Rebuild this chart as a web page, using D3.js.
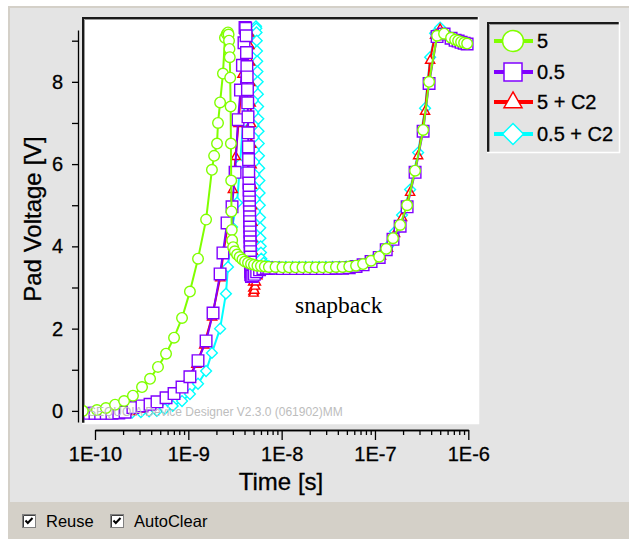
<!DOCTYPE html>
<html>
<head>
<meta charset="utf-8">
<script src="https://cdn.jsdelivr.net/npm/d3@7"></script>
<style>
  html, body { margin: 0; padding: 0; background: #ffffff; }
  svg { display: block; }
</style>
</head>
<body>
<svg id="chart" width="629" height="539"></svg>
<script>
// ---- data -------------------------------------------------------------
const seriesNames  = ["5", "0.5", "5 + C2", "0.5 + C2"];
const seriesColors = ["#80ff00", "#8000ff", "#ff0000", "#00ffff"];
const seriesShapes = ["circle", "square", "triangle", "diamond"];

const xTickValues = [1e-10, 1e-9, 1e-8, 1e-7, 1e-6];
const xTickLabels = ["1E-10", "1E-9", "1E-8", "1E-7", "1E-6"];
const yTickValues = [0, 1, 2, 3, 4, 5, 6, 7, 8, 9];
const yTickLabels = ["0", "", "2", "", "4", "", "6", "", "8", ""];

// series "5": time [s] and pad voltage [V]
const time5 = [
  7.4e-11, 1.05e-10, 1.31e-10, 1.64e-10, 2.05e-10, 2.55e-10, 3.19e-10, 3.89e-10, 4.73e-10, 5.77e-10,
  7.03e-10, 8.56e-10, 1.04e-9, 1.27e-9, 1.55e-9, 1.79e-9, 1.89e-9, 2.03e-9, 2.08e-9, 2.19e-9,
  2.35e-9, 2.47e-9, 2.58e-9, 2.66e-9,
  2.70e-9, 2.73e-9, 2.76e-9, 2.78e-9, 2.81e-9, 2.84e-9, 2.86e-9, 2.88e-9, 2.90e-9, 2.92e-9,
  2.95e-9, 3.02e-9, 3.15e-9, 3.33e-9, 3.55e-9, 3.80e-9, 4.05e-9, 4.36e-9, 4.70e-9, 5.05e-9,
  5.50e-9, 6.00e-9, 6.60e-9,
  7.30e-9, 8.60e-9, 1.02e-8, 1.20e-8, 1.41e-8, 1.67e-8, 1.97e-8, 2.32e-8, 2.74e-8, 3.24e-8,
  3.82e-8, 4.50e-8, 5.30e-8, 6.27e-8, 7.46e-8, 9.08e-8, 1.11e-7, 1.32e-7, 1.56e-7, 1.86e-7,
  2.21e-7, 2.69e-7, 3.28e-7, 3.80e-7, 4.63e-7, 5.50e-7, 6.54e-7, 7.22e-7, 7.78e-7, 8.37e-7,
  9.02e-7, 9.71e-7
];
const volt5 = [
  0.00, 0.02, 0.07, 0.15, 0.24, 0.37, 0.58, 0.78, 1.07, 1.39,
  1.78, 2.26, 2.90, 3.70, 4.65, 5.86, 6.20, 6.50, 7.00, 7.50,
  8.20, 9.07, 9.16, 9.20,
  9.15, 9.00, 8.80, 8.60, 8.10, 7.40, 6.50, 5.60, 4.85, 4.40,
  4.15, 3.98, 3.88, 3.80, 3.74, 3.68, 3.63, 3.60, 3.57, 3.55,
  3.53, 3.52, 3.51,
  3.50, 3.50, 3.49, 3.49, 3.49, 3.49, 3.49, 3.49, 3.49, 3.49,
  3.50, 3.50, 3.51, 3.53, 3.57, 3.65, 3.75, 3.94, 4.20, 4.52,
  5.00, 5.84, 6.83, 8.00, 9.12, 9.17, 9.07, 9.02, 9.00, 8.97,
  8.95, 8.93
];

// series "0.5"
const time05 = [
  8.8e-11, 1.00e-10, 1.15e-10, 1.32e-10, 1.52e-10, 1.80e-10, 2.10e-10, 2.55e-10, 3.19e-10, 3.89e-10,
  4.62e-10, 5.77e-10, 7.03e-10, 8.56e-10, 1.04e-9, 1.27e-9, 1.55e-9, 1.84e-9, 2.19e-9, 2.35e-9,
  2.60e-9, 2.94e-9, 3.17e-9, 3.41e-9, 3.62e-9, 3.80e-9, 3.95e-9, 4.05e-9,
  4.12e-9, 4.16e-9, 4.20e-9, 4.24e-9, 4.27e-9, 4.30e-9, 4.33e-9, 4.36e-9, 4.38e-9, 4.40e-9,
  4.42e-9, 4.44e-9, 4.46e-9, 4.48e-9, 4.50e-9, 4.51e-9, 4.52e-9, 4.53e-9, 4.54e-9, 4.55e-9,
  4.56e-9, 4.57e-9, 4.58e-9, 4.59e-9, 4.60e-9, 4.61e-9, 4.62e-9, 4.63e-9, 4.64e-9, 4.65e-9,
  4.66e-9,
  4.75e-9, 4.90e-9, 5.10e-9, 5.40e-9, 5.80e-9, 6.30e-9, 6.90e-9,
  7.30e-9, 8.60e-9, 1.02e-8, 1.20e-8, 1.41e-8, 1.67e-8, 1.97e-8, 2.32e-8, 2.74e-8, 3.24e-8,
  3.82e-8, 4.50e-8, 5.30e-8, 6.27e-8, 7.46e-8, 9.08e-8, 1.11e-7, 1.32e-7, 1.56e-7, 1.86e-7,
  2.21e-7, 2.69e-7, 3.28e-7, 3.80e-7, 4.63e-7, 5.50e-7, 6.54e-7, 7.22e-7, 7.78e-7, 8.37e-7,
  9.02e-7, 9.71e-7
];
const volt05 = [
  -0.06, -0.06, -0.06, -0.06, -0.06, -0.05, -0.03, 0.08, 0.12, 0.16,
  0.22, 0.32, 0.42, 0.58, 0.83, 1.22, 1.70, 2.38, 3.33, 3.84,
  4.57, 4.96, 5.80, 7.08, 7.80, 8.40, 8.95, 9.32,
  9.30, 9.12, 8.71, 8.37, 8.12, 7.81, 7.49, 7.15, 6.76, 6.42,
  6.11, 5.79, 5.54, 5.37, 5.20, 5.08, 4.96, 4.84, 4.72, 4.60,
  4.47, 4.35, 4.23, 4.11, 3.99, 3.87, 3.74, 3.62, 3.50, 3.38,
  3.31,
  3.27, 3.28, 3.32, 3.38, 3.43, 3.46, 3.47,
  3.47, 3.47, 3.46, 3.46, 3.46, 3.46, 3.46, 3.46, 3.46, 3.46,
  3.47, 3.47, 3.48, 3.51, 3.55, 3.63, 3.73, 3.92, 4.17, 4.49,
  4.96, 5.80, 6.80, 7.96, 9.10, 9.16, 9.06, 9.01, 8.99, 8.96,
  8.94, 8.92
];

// series "5 + C2"
const time5C2 = [
  9.0e-11, 1.10e-10, 1.35e-10, 1.65e-10, 2.00e-10, 2.45e-10, 3.00e-10, 3.70e-10, 4.50e-10, 5.50e-10,
  6.70e-10, 8.20e-10, 1.00e-9, 1.22e-9, 1.48e-9, 1.80e-9, 2.20e-9, 2.40e-9, 2.68e-9, 3.00e-9,
  3.22e-9, 3.45e-9, 3.80e-9, 4.15e-9, 4.35e-9,
  4.45e-9, 4.52e-9, 4.58e-9, 4.62e-9, 4.66e-9, 4.70e-9, 4.73e-9, 4.76e-9, 4.79e-9, 4.82e-9,
  4.85e-9, 4.87e-9, 4.89e-9, 4.91e-9, 4.93e-9, 4.95e-9, 4.97e-9, 4.99e-9, 5.01e-9, 5.10e-9,
  5.20e-9, 5.30e-9, 5.50e-9, 5.80e-9, 6.30e-9, 6.90e-9,
  7.90e-9, 9.40e-9, 1.11e-8, 1.31e-8, 1.54e-8, 1.81e-8, 2.14e-8, 2.52e-8, 2.98e-8, 3.52e-8,
  4.15e-8, 4.90e-8, 5.70e-8, 6.90e-8, 8.20e-8, 9.80e-8, 1.16e-7, 1.38e-7, 1.64e-7, 1.95e-7,
  2.38e-7, 2.90e-7, 3.44e-7, 3.90e-7, 4.41e-7, 4.99e-7, 5.93e-7, 7.04e-7, 8.17e-7, 9.47e-7
];
const volt5C2 = [
  -0.04, -0.05, -0.05, -0.05, -0.03, 0.00, 0.06, 0.12, 0.20, 0.29,
  0.40, 0.55, 0.80, 1.15, 1.62, 2.30, 3.25, 3.90, 4.60, 5.40,
  6.20, 7.00, 8.20, 9.00, 9.25,
  9.20, 8.90, 8.50, 8.00, 7.50, 7.00, 6.50, 6.00, 5.50, 5.00,
  4.60, 4.20, 3.90, 3.60, 3.35, 3.15, 3.00, 2.92, 2.88, 2.95,
  3.05, 3.15, 3.30, 3.42, 3.48, 3.50,
  3.50, 3.50, 3.50, 3.50, 3.50, 3.50, 3.50, 3.50, 3.50, 3.50,
  3.50, 3.51, 3.52, 3.55, 3.60, 3.68, 3.78, 3.97, 4.33, 4.72,
  5.33, 6.22, 7.30, 8.54, 9.15, 9.30, 9.15, 9.05, 8.98, 8.93
];

// series "0.5 + C2"
const time05C2 = [
  1.60e-10, 2.00e-10, 2.50e-10, 3.10e-10, 3.80e-10, 4.60e-10, 5.60e-10, 6.80e-10, 8.56e-10, 1.04e-9,
  1.27e-9, 1.55e-9, 1.79e-9, 2.19e-9, 2.53e-9, 2.66e-9, 2.94e-9, 3.33e-9, 3.58e-9, 3.86e-9,
  4.15e-9, 4.58e-9, 4.94e-9, 5.31e-9,
  5.35e-9, 5.38e-9, 5.41e-9, 5.44e-9, 5.47e-9, 5.50e-9, 5.53e-9, 5.56e-9, 5.59e-9, 5.62e-9,
  5.65e-9, 5.68e-9, 5.71e-9, 5.74e-9, 5.77e-9, 5.80e-9, 5.83e-9, 5.86e-9, 5.89e-9, 5.92e-9,
  5.96e-9, 6.00e-9, 6.05e-9, 6.40e-9, 6.80e-9, 7.30e-9,
  7.90e-9, 9.40e-9, 1.11e-8, 1.31e-8, 1.54e-8, 1.81e-8, 2.14e-8, 2.52e-8, 2.98e-8, 3.52e-8,
  4.15e-8, 4.90e-8, 5.70e-8, 6.90e-8, 8.20e-8, 9.80e-8, 1.16e-7, 1.38e-7, 1.64e-7, 1.95e-7,
  2.38e-7, 2.90e-7, 3.44e-7, 3.90e-7, 4.41e-7, 4.99e-7, 5.93e-7, 7.04e-7, 8.17e-7, 9.47e-7
];
const volt05C2 = [
  -0.05, -0.05, -0.04, -0.03, -0.01, 0.00, 0.05, 0.12, 0.24, 0.41,
  0.66, 0.97, 1.41, 2.00, 2.85, 3.50, 4.47, 5.06, 6.00, 7.00,
  8.00, 8.80, 9.20, 9.35,
  9.30, 9.20, 9.00, 8.75, 8.50, 8.25, 8.00, 7.70, 7.40, 7.10,
  6.80, 6.50, 6.20, 5.90, 5.60, 5.30, 5.00, 4.70, 4.45, 4.20,
  4.00, 3.85, 3.70, 3.60, 3.55, 3.52,
  3.50, 3.50, 3.50, 3.50, 3.50, 3.50, 3.50, 3.50, 3.50, 3.50,
  3.50, 3.51, 3.52, 3.55, 3.61, 3.69, 3.80, 4.00, 4.36, 4.76,
  5.38, 6.28, 7.36, 8.60, 9.18, 9.32, 9.16, 9.05, 8.98, 8.93
];

const seriesTimes = [time5, time05, time5C2, time05C2];
const seriesVolts = [volt5, volt05, volt5C2, volt05C2];

// ---- drawing ----------------------------------------------------------
const svg = d3.select("#chart");
const SANS = "'Liberation Sans', Arial, sans-serif";
const SERIF = "'Liberation Serif', 'Times New Roman', serif";

function label(sel, size) {
  return sel.style("font-family", SANS).style("font-size", size + "px")
    .attr("fill", "#000").attr("stroke", "#000").attr("stroke-width", 0.3);
}

// window panels
svg.append("rect").attr("x", 0).attr("y", 0).attr("width", 629).attr("height", 539).attr("fill", "#ffffff");
svg.append("rect").attr("x", 8).attr("y", 6).attr("width", 621).attr("height", 533).attr("fill", "#d4d0c8");
svg.append("rect").attr("x", 10).attr("y", 8).attr("width", 619).attr("height", 494).attr("fill", "#e4e4e4");

// sunken box helper (dark top/left edge, light bottom/right edge)
function sunkenBox(x0, y0, x1, y1, fill) {
  const g = svg.append("g");
  g.append("rect").attr("x", x0).attr("y", y0).attr("width", x1 - x0).attr("height", y1 - y0).attr("fill", fill);
  g.append("path").attr("d", `M${x0 + 1},${y1}V${y0 + 1}H${x1}`)
    .attr("fill", "none").attr("stroke", "#1a1a1a").attr("stroke-width", 2);
  g.append("path").attr("d", `M${x0 + 2.5},${y1}V${y0 + 2.5}H${x1}`)
    .attr("fill", "none").attr("stroke", "#9a9a9a").attr("stroke-width", 1);
  g.append("path").attr("d", `M${x0},${y1 + 0.5}H${x1 + 0.5}V${y0}`)
    .attr("fill", "none").attr("stroke", "#ffffff").attr("stroke-width", 1.5);
  return g;
}

sunkenBox(82, 17, 478, 423, "#ffffff");

// plotting region clip
svg.append("defs").append("clipPath").attr("id", "plotClip")
  .append("rect").attr("x", 84).attr("y", 19).attr("width", 394).attr("height", 404);

// scales
const x = d3.scaleLog().domain([1e-10, 1e-6]).range([95, 468.3]);
const y = d3.scaleLinear().domain([-0.27, 9.26]).range([422, 30]);

// marker shapes (centered at 0,0; s = half size)
function shapePath(kind, s) {
  switch (kind) {
    case "circle":   return `M${s},0A${s},${s} 0 1,1 ${-s},0A${s},${s} 0 1,1 ${s},0Z`;
    case "square":   return `M${-s},${-s}H${s}V${s}H${-s}Z`;
    case "triangle": return `M0,${-s * 0.95}L${s},${s * 0.8}H${-s}Z`;
    default:         return `M0,${-s}L${s},0L0,${s}L${-s},0Z`;
  }
}
const plotMarkerSize = { circle: 5.3, square: 5.8, triangle: 4.6, diamond: 5.4 };

// series drawn back to front so that "5" ends up on top
const plot = svg.append("g").attr("clip-path", "url(#plotClip)");
const line = d3.line().x(d => x(d.t)).y(d => y(d.v));
[3, 2, 1, 0].forEach(i => {
  const pts = seriesTimes[i].map((t, k) => ({ t, v: seriesVolts[i][k] }));
  const g = plot.append("g").attr("class", "series");
  g.append("path").datum(pts).attr("d", line)
    .attr("fill", "none").attr("stroke", seriesColors[i]).attr("stroke-width", 2)
    .attr("stroke-linejoin", "round");
  g.selectAll("path.mk").data(pts).join("path").attr("class", "mk")
    .attr("transform", d => `translate(${x(d.t)},${y(d.v)})`)
    .attr("d", shapePath(seriesShapes[i], plotMarkerSize[seriesShapes[i]]))
    .attr("fill", "#ffffff").attr("stroke", seriesColors[i]).attr("stroke-width", 1.4);
});

// watermark inside the plot
svg.append("text")
  .attr("x", 88).attr("y", 416)
  .style("font-family", SANS).style("font-size", "12px")
  .attr("fill", "#bdbdbd")
  .text("SEQUOIA Device Designer V2.3.0 (061902)MM");

// annotation
svg.append("text").attr("x", 295).attr("y", 313)
  .style("font-family", SERIF).style("font-size", "23.5px")
  .attr("fill", "#000").text("snapback");

// y axis
const yAxis = d3.axisLeft(y).tickValues(yTickValues)
  .tickFormat((d, i) => yTickLabels[i]).tickSize(6).tickSizeOuter(0).tickPadding(9);
const gy = svg.append("g").attr("transform", "translate(78,0)").call(yAxis);
label(gy.selectAll("text"), 20);
gy.selectAll("line, path").attr("stroke", "#000").attr("stroke-width", 1.3);

// x axis: minor ticks, then labelled decades
const xMinor = x.ticks().filter(v => !xTickValues.some(m => Math.abs(m - v) / m < 1e-6));
const gxMinor = svg.append("g").attr("transform", "translate(0,430)")
  .call(d3.axisBottom(x).tickValues(xMinor).tickFormat("").tickSize(5).tickSizeOuter(0));
gxMinor.selectAll("line, path").attr("stroke", "#000").attr("stroke-width", 1.3);
const gx = svg.append("g").attr("transform", "translate(0,430)")
  .call(d3.axisBottom(x).tickValues(xTickValues).tickFormat((d, i) => xTickLabels[i])
    .tickSize(10).tickSizeOuter(0).tickPadding(7));
label(gx.selectAll("text"), 20);
gx.selectAll("line, path").attr("stroke", "#000").attr("stroke-width", 1.3);

// axis titles
label(svg.append("text").attr("x", 281).attr("y", 490).attr("text-anchor", "middle"), 24).text("Time [s]");
label(svg.append("text").attr("transform", "translate(41,219) rotate(-90)").attr("text-anchor", "middle"), 24)
  .text("Pad Voltage [V]");

// legend
sunkenBox(487, 22, 619, 152, "#e4e4e4");
const legendRows = [41, 72, 102, 134];
const legendMarkerSize = { circle: 10.5, square: 9, triangle: 9, diamond: 10.5 };
seriesNames.forEach((name, i) => {
  const ry = legendRows[i];
  const g = svg.append("g");
  g.append("line").attr("x1", 494).attr("x2", 533).attr("y1", ry).attr("y2", ry)
    .attr("stroke", seriesColors[i]).attr("stroke-width", 4);
  g.append("path").attr("transform", `translate(513,${i === 2 ? ry - 1.5 : ry})`)
    .attr("d", shapePath(seriesShapes[i], legendMarkerSize[seriesShapes[i]]))
    .attr("fill", "#ffffff").attr("stroke", seriesColors[i]).attr("stroke-width", 1.5);
  label(g.append("text").attr("x", 537).attr("y", ry + 7), 20).text(name);
});

// option checkboxes along the bottom strip
const checkOptions = [{ label: "Reuse", x: 22 }, { label: "AutoClear", x: 110 }];
checkOptions.forEach(o => {
  const g = svg.append("g").attr("transform", `translate(${o.x},514)`);
  g.append("rect").attr("x", 0.5).attr("y", 0.5).attr("width", 13).attr("height", 13)
    .attr("fill", "#ffffff").attr("stroke", "#808080");
  g.append("path").attr("d", "M1.5,13V1.5H13").attr("fill", "none").attr("stroke", "#404040");
  g.append("path").attr("d", "M3.5,6.5L5.8,9L10.5,4").attr("fill", "none")
    .attr("stroke", "#000").attr("stroke-width", 2);
  g.append("text").attr("x", 24).attr("y", 12.5)
    .style("font-family", SANS).style("font-size", "16.5px").attr("fill", "#000").text(o.label);
});
</script>
</body>
</html>
